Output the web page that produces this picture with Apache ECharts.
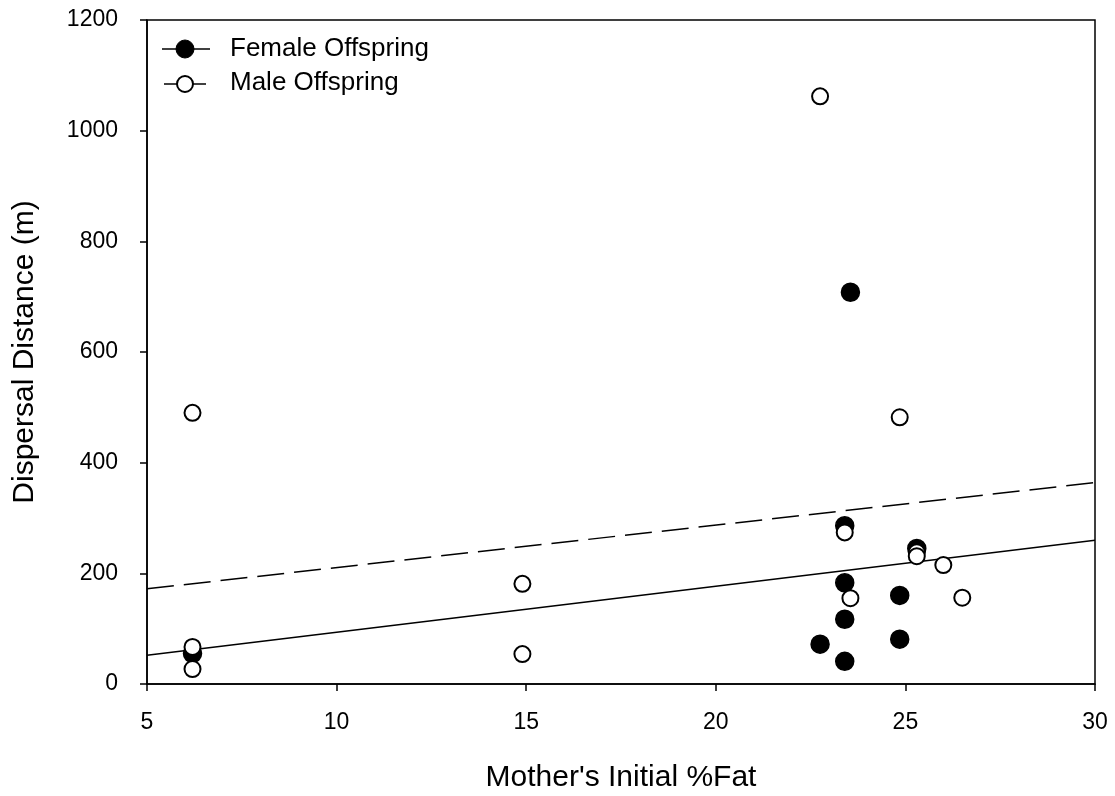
<!DOCTYPE html>
<html>
<head>
<meta charset="utf-8">
<title>Dispersal Distance vs Mother's Initial %Fat</title>
<script src="https://cdn.jsdelivr.net/npm/echarts@6/dist/echarts.min.js"></script>
<style>
  html, body { margin: 0; padding: 0; background: #fff; }
  #chart { width: 1115px; height: 796px; }
</style>
</head>
<body>
<div id="chart"></div>
<script>
// Mother's initial %fat (x) and offspring dispersal distance in metres (y)
const femaleOffspring = [
  [6.2, 55], [22.75, 72], [23.4, 41], [23.4, 117], [23.4, 183],
  [23.4, 286], [23.55, 708], [24.85, 160], [24.85, 81], [25.3, 245]
];
const maleOffspring = [
  [6.2, 67], [6.2, 27], [6.2, 490], [14.9, 181], [14.9, 54],
  [22.75, 1062], [23.4, 274], [23.55, 155], [24.85, 482], [25.3, 238],
  [25.3, 231], [26.0, 215], [26.5, 156]
];
// Fitted regression lines, evaluated at the ends of the x range
const femaleFit = [[5, 52], [30, 260]];
const maleFit = [[5, 172], [30, 364]];

const xTicks = { min: 5, max: 30, interval: 5 };
const yTicks = { min: 0, max: 1200, interval: 200 };

const legendItems = ['Female Offspring', 'Male Offspring'];

const FONT = 'Liberation Sans, Arial, Helvetica, sans-serif';

const chart = echarts.init(document.getElementById('chart'), null, { renderer: 'canvas' });

const axisCommon = {
  axisLine: { show: true, onZero: false, lineStyle: { color: '#000', width: 1.5 } },
  axisTick: { show: true, inside: false, length: 7, lineStyle: { color: '#000', width: 1.5 } },
  splitLine: { show: false },
  axisLabel: { color: '#000', fontSize: 23, fontFamily: FONT, formatter: v => String(v) },
  nameTextStyle: { color: '#000', fontSize: 30, fontFamily: FONT },
  nameLocation: 'middle'
};

chart.setOption({
  animation: false,
  backgroundColor: '#fff',
  grid: {
    left: 147, right: 20, top: 20, bottom: 112,
    outerBoundsMode: 'none',
    show: true, borderColor: '#000', borderWidth: 1.5, backgroundColor: 'transparent'
  },
  xAxis: Object.assign({}, axisCommon, {
    type: 'value',
    min: xTicks.min, max: xTicks.max, interval: xTicks.interval,
    name: "Mother's Initial %Fat",
    nameGap: 79,
    axisLabel: Object.assign({}, axisCommon.axisLabel, { margin: 27 })
  }),
  yAxis: Object.assign({}, axisCommon, {
    type: 'value',
    min: yTicks.min, max: yTicks.max, interval: yTicks.interval,
    name: 'Dispersal Distance (m)',
    nameGap: 107,
    axisLabel: Object.assign({}, axisCommon.axisLabel, { margin: 29 })
  }),
  series: [
    {
      name: 'Female fit',
      type: 'line',
      data: femaleFit,
      symbol: 'none',
      silent: true,
      lineStyle: { color: '#000', width: 1.5, type: 'solid' },
      z: 2
    },
    {
      name: 'Male fit',
      type: 'line',
      data: maleFit,
      symbol: 'none',
      silent: true,
      lineStyle: { color: '#000', width: 1.5, type: [27, 10] },
      z: 2
    },
    {
      name: legendItems[0],
      type: 'scatter',
      data: femaleOffspring,
      symbol: 'circle',
      symbolSize: 18,
      itemStyle: { color: '#000', borderColor: '#000', borderWidth: 1.5, opacity: 1 },
      z: 3
    },
    {
      name: legendItems[1],
      type: 'scatter',
      data: maleOffspring,
      symbol: 'circle',
      symbolSize: 16,
      itemStyle: { color: '#fff', borderColor: '#000', borderWidth: 2, opacity: 1 },
      z: 4
    }
  ],
  graphic: [
    // Legend: female (filled marker on a line)
    { type: 'line', shape: { x1: 162, y1: 49, x2: 210, y2: 49 }, style: { stroke: '#000', lineWidth: 1.5 } },
    { type: 'circle', shape: { cx: 185, cy: 49, r: 9 }, style: { fill: '#000', stroke: '#000', lineWidth: 1 } },
    { type: 'text', left: 230, top: 36, style: { text: legendItems[0], fill: '#000', font: '26px ' + FONT } },
    // Legend: male (open marker on a line)
    { type: 'line', shape: { x1: 164, y1: 84, x2: 206, y2: 84 }, style: { stroke: '#000', lineWidth: 1.5 } },
    { type: 'circle', shape: { cx: 185, cy: 84, r: 8 }, style: { fill: '#fff', stroke: '#000', lineWidth: 2 } },
    { type: 'text', left: 230, top: 70, style: { text: legendItems[1], fill: '#000', font: '26px ' + FONT } }
  ]
});
</script>
</body>
</html>
